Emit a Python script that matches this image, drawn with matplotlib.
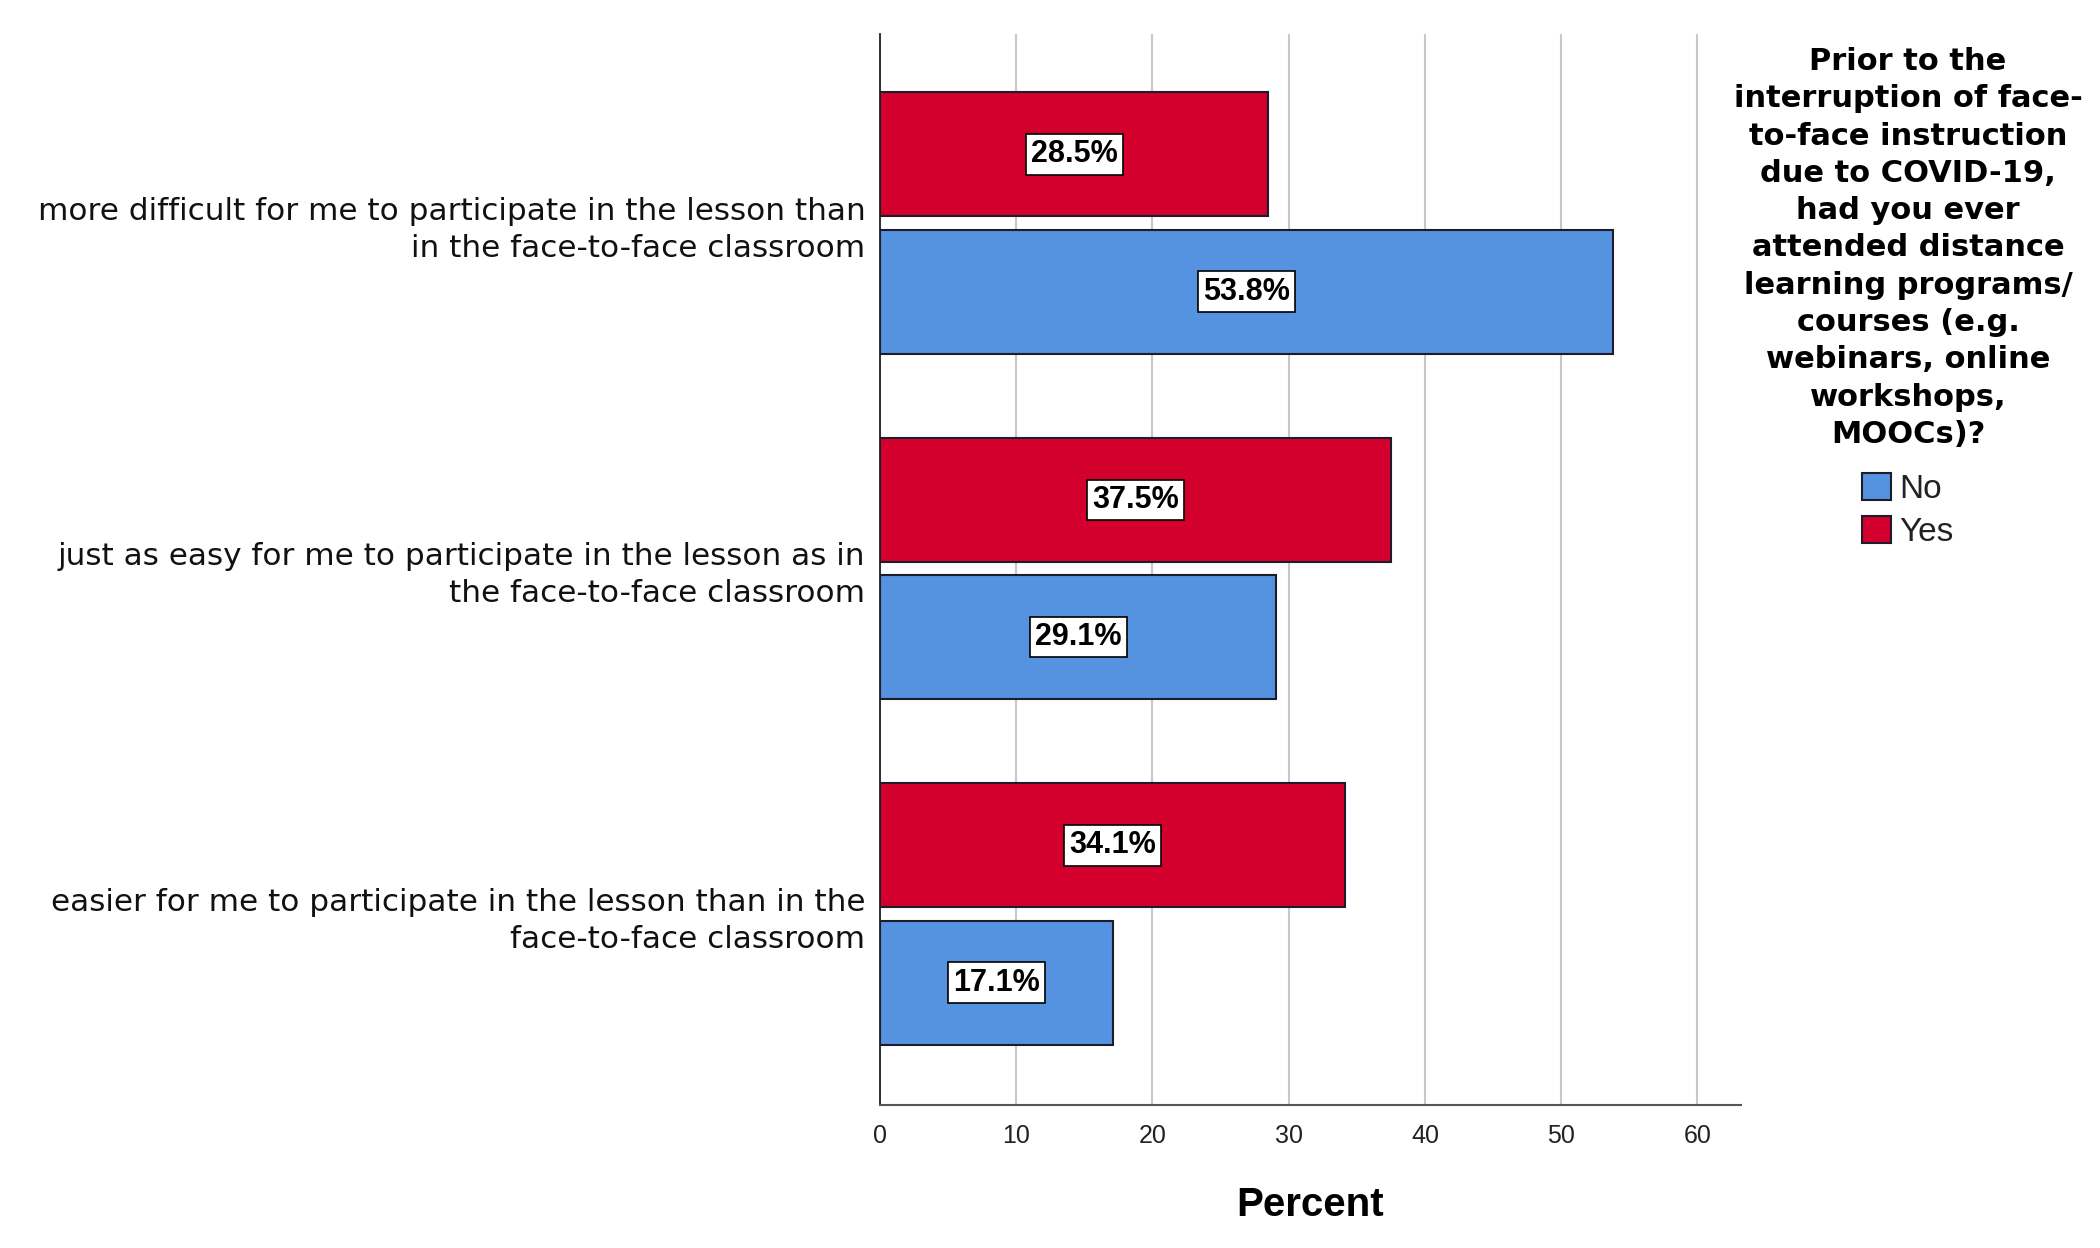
# -*- coding: utf-8 -*-
"""
Grouped horizontal bar chart: ease of participation in online lessons,
split by prior experience with distance learning.
"""

import matplotlib.pyplot as plt
from matplotlib.patches import Patch

# ---DATA---
categories = [
    'more difficult for me to participate in the lesson than\nin the face-to-face classroom',
    'just as easy for me to participate in the lesson as in\nthe face-to-face classroom',
    'easier for me to participate in the lesson than in the\nface-to-face classroom',
]
no_values = [53.8, 29.1, 17.1]
yes_values = [28.5, 37.5, 34.1]
x_ticks = [0, 10, 20, 30, 40, 50, 60]
legend_title = ('Prior to the\ninterruption of face-\nto-face instruction\n'
                'due to COVID-19,\nhad you ever\nattended distance\n'
                'learning programs/\ncourses (e.g.\nwebinars, online\n'
                'workshops,\nMOOCs)?')
series_names = ['No', 'Yes']

# ---STYLE---
BLUE = '#5592e0'
RED = '#d3002d'
EDGE = '#1c1c2a'
SANS = ['Liberation Sans', 'DejaVu Sans']
WIDE = ['DejaVu Sans']


def main():
    plt.rcParams['font.family'] = SANS

    fig = plt.figure(figsize=(21, 12.48), dpi=100)
    ax = fig.add_axes([880 / 2100, 1 - 1105 / 1248, 861 / 2100, 1071 / 1248])

    bar_h = 0.359
    offset = 0.1985
    pos = list(range(len(categories)))

    red = ax.barh([p - offset for p in pos], yes_values, height=bar_h,
                  color=RED, edgecolor=EDGE, linewidth=1.5, zorder=3)
    blue = ax.barh([p + offset for p in pos], no_values, height=bar_h,
                   color=BLUE, edgecolor=EDGE, linewidth=1.5, zorder=3)

    # Value boxes in the middle of each bar
    for bars in (red, blue):
        for rect in bars:
            w = rect.get_width()
            ax.text(w / 2, rect.get_y() + rect.get_height() / 2, '%.1f%%' % w,
                    ha='center', va='center', fontsize=22, fontweight='bold',
                    zorder=5,
                    bbox=dict(boxstyle='square,pad=0.17', facecolor='white',
                              edgecolor='black', linewidth=1.2))

    # Axes
    ax.set_xlim(0, 63.2)
    ax.set_ylim(2.553, -0.547)
    ax.set_xticks(x_ticks)
    ax.set_xticklabels([str(t) for t in x_ticks], fontsize=18, color='#222222')
    ax.set_yticks(pos)
    ax.set_yticklabels(categories, fontsize=22.4, color='#111111',
                       family=WIDE, linespacing=1.33)
    ax.tick_params(axis='x', length=0, pad=14)
    ax.tick_params(axis='y', length=0, pad=10.5)

    ax.xaxis.grid(True, color='#c8c8c8', linewidth=1.5, zorder=0)
    ax.set_axisbelow(True)
    for side in ('top', 'right'):
        ax.spines[side].set_visible(False)
    ax.spines['left'].set_color('#222222')
    ax.spines['bottom'].set_color('#555555')
    ax.spines['left'].set_linewidth(1.3)
    ax.spines['bottom'].set_linewidth(1.5)

    ax.set_xlabel('Percent', fontsize=29, fontweight='bold', labelpad=27)

    # Legend: title block, then the two entries beneath it
    fig.text(1908 / 2100, 1 - 47 / 1248, legend_title, ha='center', va='top',
             multialignment='center', family=WIDE, fontweight='bold',
             fontsize=22, linespacing=1.36)
    handles = [Patch(facecolor=BLUE, edgecolor=EDGE, linewidth=1.5),
               Patch(facecolor=RED, edgecolor=EDGE, linewidth=1.5)]
    leg = fig.legend(handles, series_names, loc='upper center',
                     bbox_to_anchor=(1908 / 2100, 1 - 473 / 1248),
                     frameon=False, fontsize=24,
                     handlelength=0.85, handleheight=0.85, handletextpad=0.25,
                     labelspacing=0.35, borderpad=0, borderaxespad=0)
    for t in leg.get_texts():
        t.set_color('#222222')

    fig.savefig('out.png', dpi=100)


if __name__ == '__main__':
    main()
